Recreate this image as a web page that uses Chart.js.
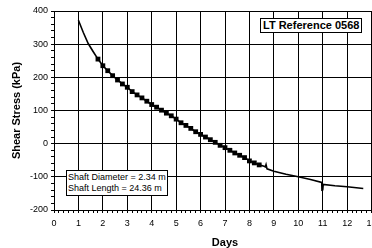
<!DOCTYPE html>
<html>
<head>
<meta charset="utf-8">
<script src="https://cdn.jsdelivr.net/npm/chart.js@4.4.1/dist/chart.umd.min.js"></script>
<style>
    html, body { margin: 0; padding: 0; background: #fff; overflow: hidden; }
    #wrap { position: relative; width: 400px; height: 248px; }
    .note {
        position: absolute;
        background: #fff;
        border: 1px solid #000;
        font-family: "Liberation Sans", Arial, sans-serif;
        color: #000;
        white-space: nowrap;
    }
    #ref { left: 260px; top: 18px; font-size: 11px; font-weight: bold; padding: 0 2px; line-height: 13px; }
    #shaft { left: 66px; top: 170px; font-size: 9px; padding: 1px 1px; line-height: 11px; }
</style>
</head>
<body>
<div id="wrap">
    <canvas id="shear-chart" width="400" height="248"></canvas>
    <div class="note" id="ref">LT Reference 0568</div>
    <div class="note" id="shaft">Shaft Diameter = 2.34 m<br>Shaft Length = 24.36 m</div>
</div>
<script>
// values
const days = [
    1.0, 1.2, 1.4, 1.6, 1.8, 2.0, 2.2, 2.4, 2.6, 2.8,
    3.0, 3.2, 3.4, 3.6, 3.8, 4.0, 4.2, 4.4, 4.6, 4.8,
    5.0, 5.2, 5.4, 5.6, 5.8, 6.0, 6.2, 6.4, 6.6, 6.8,
    7.0, 7.2, 7.4, 7.6, 7.8, 8.0, 8.2, 8.4, 8.6, 8.65,
    8.68, 8.72, 9.0, 9.5, 10.0, 10.5, 10.96, 10.97, 10.99, 11.0,
    11.02, 11.5, 12.0, 12.66
];
const shearStress = [
    372, 335, 302, 278, 255, 235, 220, 205, 192, 180,
    170, 157, 147, 138, 128, 118, 110, 101, 92, 84,
    74, 63, 55, 46, 36, 28, 20, 12, 4, -5,
    -12, -20, -28, -35, -42, -52, -58, -64, -68, -70,
    -63, -76, -83, -92, -100, -108, -117, -143, -120, -141,
    -123, -127, -130, -135
];
const yTickValues = [-200, -100, 0, 100, 200, 300, 400];
const xTickValues = [0, 1, 2, 3, 4, 5, 6, 7, 8, 9, 10, 11, 12, 13, 14];

const fontFamily = '"Liberation Sans", Arial, sans-serif';

function isMajor(value, list) {
    return list.some(v => Math.abs(v - value) < 1e-6);
}

const ctx = document.getElementById('shear-chart');

new Chart(ctx, {
    type: 'line',
    data: {
        datasets: [
            {
                data: days.map((d, i) => ({ x: d, y: shearStress[i] })),
                borderColor: '#000',
                backgroundColor: '#000',
                borderWidth: 1.6,
                tension: 0,
                pointStyle: 'rect',
                pointRadius: (c) => {
                    const d = days[c.dataIndex];
                    return (d >= 1.8 && d <= 8.4) ? 3.4 : 0;
                },
                pointBorderWidth: 0,
            }
        ]
    },
    options: {
        responsive: false,
        animation: false,
        layout: { padding: { top: 11, right: 4, left: 0, bottom: 0 } },
        plugins: {
            legend: { display: false },
            tooltip: { enabled: false }
        },
        scales: {
            x: {
                type: 'linear',
                min: 0,
                max: 14,
                afterFit: (scale) => {
                    scale.height = 38;
                    scale.paddingLeft = 0;
                    scale.paddingRight = 0;
                },
                border: { color: '#000', width: 1 },
                grid: {
                    color: (c) => isMajor(c.tick.value, xTickValues) ? '#000' : 'rgba(0,0,0,0)',
                    tickColor: '#000',
                    tickLength: 3,
                },
                ticks: {
                    stepSize: 0.2,
                    autoSkip: false,
                    maxRotation: 0,
                    padding: 5,
                    color: '#000',
                    font: { family: fontFamily, size: 9 },
                    callback: (value) => isMajor(value, xTickValues) ? String(Math.round(value)) : ''
                },
                title: {
                    display: true,
                    text: 'Days',
                    color: '#000',
                    font: { family: fontFamily, size: 11, weight: 'bold', lineHeight: 1 },
                    padding: { top: 0, bottom: 0 }
                }
            },
            y: {
                type: 'linear',
                min: -200,
                max: 400,
                afterFit: (scale) => {
                    scale.width = 54;
                    scale.paddingTop = 0;
                    scale.paddingBottom = 0;
                },
                border: { color: '#000', width: 1 },
                grid: {
                    color: (c) => isMajor(c.tick.value, yTickValues) ? '#000' : 'rgba(0,0,0,0)',
                    tickColor: '#000',
                    tickLength: 3,
                },
                ticks: {
                    stepSize: 20,
                    autoSkip: false,
                    padding: 3,
                    color: '#000',
                    font: { family: fontFamily, size: 9 },
                    callback: (value) => isMajor(value, yTickValues) ? String(Math.round(value)) : ''
                },
                title: {
                    display: true,
                    text: 'Shear Stress (kPa)',
                    color: '#000',
                    font: { family: fontFamily, size: 11, weight: 'bold' },
                    padding: { top: 10, bottom: 0 }
                }
            }
        }
    }
});
</script>
</body>
</html>
